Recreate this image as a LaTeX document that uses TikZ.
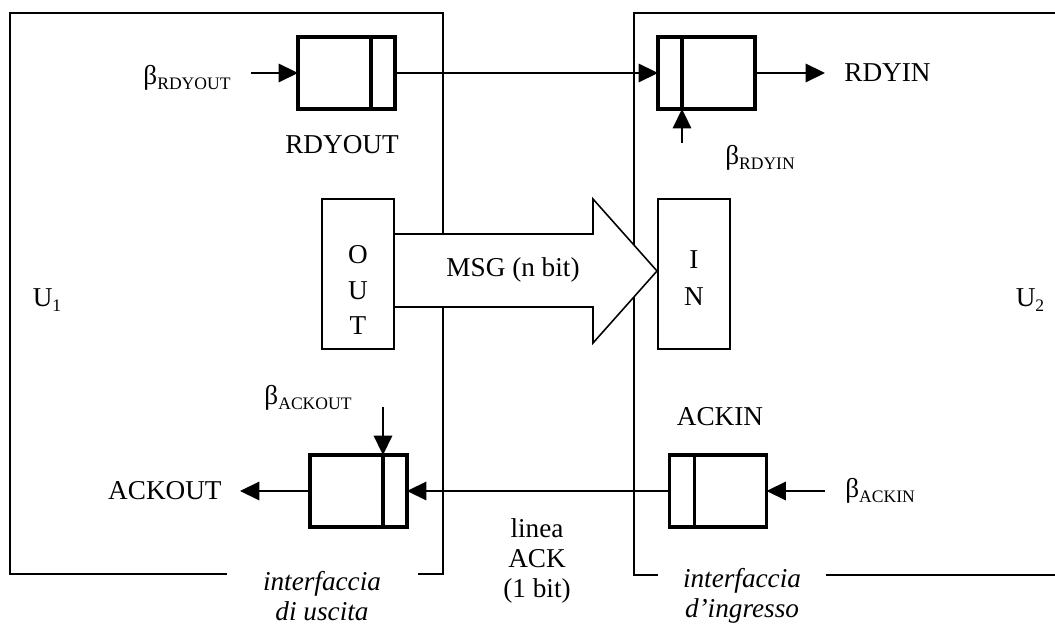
\documentclass[tikz,border=0pt]{standalone}
\usepackage{fontspec}
\setmainfont{Liberation Serif}
\usepackage{tikz}
\usetikzlibrary{arrows.meta}
\newcommand{\fs}{\fontsize{15.5}{18}\selectfont}
\newcommand{\lowtxt}[1]{\raisebox{-2.5pt}{\fontsize{10}{12}\selectfont #1}}
\tikzset{
  frm/.style={line width=0.9pt},
  reg/.style={draw, line width=1.8pt, fill=white, minimum width=1.94cm, minimum height=1.44cm, inner sep=0pt, outer sep=0pt},
  bar/.style={line width=1.8pt},
  port/.style={draw, line width=0.9pt, fill=white, minimum width=1.44cm, minimum height=3cm, inner sep=0pt, outer sep=0pt},
  sig/.style={-{Triangle[length=11pt,width=10.5pt]}, line width=0.9pt},
  lbl/.style={font=\fs, inner sep=0pt, align=center},
  iface/.style={lbl, font=\fontsize{15.5}{17}\selectfont\itshape}
}

\begin{document}
\begin{tikzpicture}[x=0.02cm, y=-0.02cm]
\useasboundingbox (0,0) rectangle (1055,624);
% the two units
\draw[frm] (227,574) -- (10,574) -- (10,13) -- (443,13) -- (443,574) -- (418,574);
\draw[frm] (1055,13) -- (634,13) -- (634,575) -- (658,575);
\draw[frm] (826,575) -- (1055,575);
\node[lbl] (u1) at (47,300) {U\lowtxt{1}};
\node[lbl] (u2) at (1030,300) {U\lowtxt{2}};
% registers
\node[reg] (ro) at (346.5,73) {};
\node[reg] (ri) at (706.5,73) {};
\node[reg] (ao) at (358.5,491) {};
\node[reg] (ai) at (718,491) {};
\draw[bar] ([xshift=-0.48cm]ro.north east) -- ([xshift=-0.48cm]ro.south east);
\draw[bar] ([xshift=0.48cm]ri.north west) -- ([xshift=0.48cm]ri.south west);
\draw[bar] ([xshift=-0.48cm]ao.north east) -- ([xshift=-0.48cm]ao.south east);
\draw[bar] ([xshift=0.5cm]ai.north west) -- ([xshift=0.5cm]ai.south west);
% message path
\draw[frm, fill=white] (394,234) -- (593,234) -- (593,199) -- (657,271) -- (593,343) -- (593,307) -- (394,307);
\node[lbl] (msg) at (513,270) {MSG (n bit)};
\node[port] (outb) at (358,274) {};
\node[port] (inb) at (694,274) {};
\node[lbl, font=\fontsize{15.5}{20}\selectfont] (outt) at (358,290) {O\\U\\T};
\node[lbl, font=\fontsize{15.5}{21}\selectfont] (intt) at (694,278) {I\\N};
% labels
\node[lbl] (brdo) at (187,78) {β\lowtxt{RDYOUT}};
\node[lbl] (lrdo) at (342,145) {RDYOUT};
\node[lbl, anchor=west] (lrdi) at (844,73) {RDYIN};
\node[lbl] (brdi) at (760,158) {β\lowtxt{RDYIN}};
\node[lbl] (bako) at (308,398) {β\lowtxt{ACKOUT}};
\node[lbl, anchor=east] (lako) at (222,491) {ACKOUT};
\node[lbl] (laki) at (720,417) {ACKIN};
\node[lbl, anchor=west] (baki) at (845,491) {β\lowtxt{ACKIN}};
\node[lbl, font=\fontsize{15.5}{17}\selectfont] (lack) at (537,561) {linea\\ACK\\(1 bit)};
\node[iface] (ifo) at (322,596) {interfaccia\\di uscita};
\node[iface] (ifi) at (742,596) {interfaccia\\d’ingresso};
% signal lines
\coordinate (p1) at (251,73);
\coordinate (p2) at (825,73);
\coordinate (p3) at ([xshift=0.48cm, yshift=-0.68cm]ri.south west);
\coordinate (p4) at ([xshift=-0.48cm, yshift=0.96cm]ao.north east);
\coordinate (p5) at (240,491);
\coordinate (p6) at (825,491);
\draw[sig] (p1) -- (ro.west);
\draw[sig] (ro.east) -- (ri.west);
\draw[sig] (ri.east) -- (p2);
\draw[sig] (p3) -- ([xshift=0.48cm]ri.south west);
\draw[sig] (p4) -- ([xshift=-0.48cm]ao.north east);
\draw[sig] (ao.west) -- (p5);
\draw[sig] (ai.west) -- (ao.east);
\draw[sig] (p6) -- (ai.east);
\end{tikzpicture}
\end{document}
